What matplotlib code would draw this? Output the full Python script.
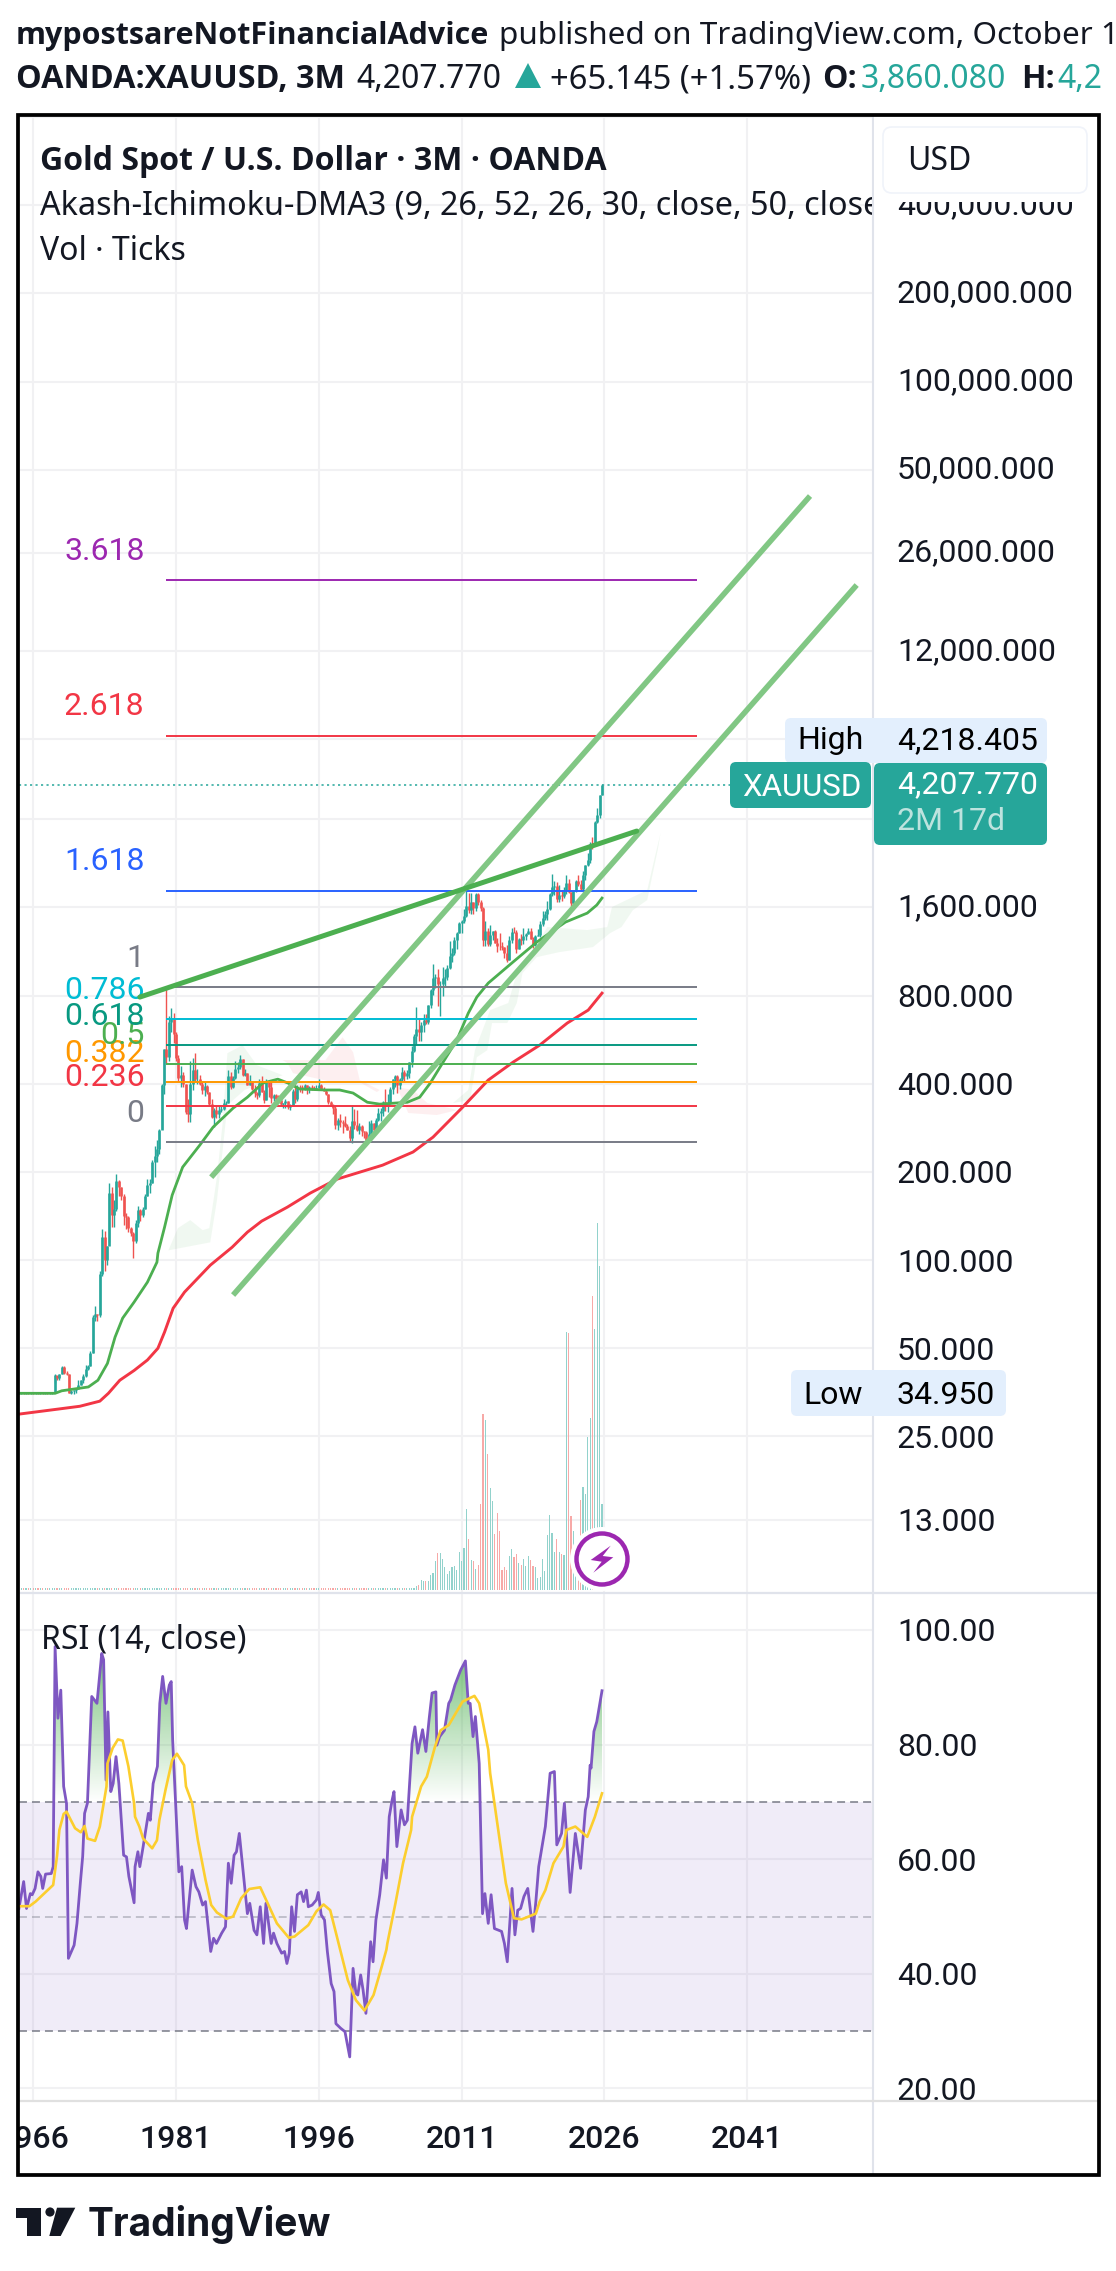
import numpy as np
import matplotlib
matplotlib.use('Agg')
import matplotlib.pyplot as plt
from matplotlib.patches import FancyBboxPatch, Circle, Polygon, Rectangle
from matplotlib.transforms import Bbox, TransformedBbox, ScaledTranslation

W, H = 1116, 2271
UP, DOWN = '#26a69a', '#ef5350'
INK = '#131722'
GRID = '#f1f1f3'
SANS = 'Noto Sans'
BOLD = 'Open Sans'
NUM = 'Roboto'

# quarterly candles, first bar is 1964 Q3
highs = [35.3, 35.3, 35.3, 35.3, 35.3, 35.3, 35.3, 35.3, 35.3, 35.3, 35.3, 35.3, 35.3, 35.3, 35.3,
         41, 40.3, 41,
         43.5, 43.5, 41.9, 40.8,
         36, 36, 36.5, 39,
         39, 41, 44, 44,
         49, 65, 70, 65.5,
         92, 128, 126, 112,
         183, 178, 160, 197,
         188, 178, 168, 145,
         141, 130, 125, 137,
         153, 150, 152, 168,
         190, 190, 220, 245,
         258, 281, 400, 525,
         850, 680, 725, 700,
         600, 500, 460, 440,
         400, 355, 480, 490,
         510, 450, 430, 405,
         405, 395, 375, 355,
         330, 338, 338, 337,
         355, 350, 445, 440,
         425, 480, 475, 500,
         485, 450, 435, 430,
         410, 395, 375, 415,
         425, 380, 415, 410,
         410, 370, 370, 365,
         360, 345, 355, 350,
         340, 385, 405, 395,
         395, 395, 398, 395,
         392, 397, 393, 395,
         415, 398, 390, 384,
         368, 350, 340, 335,
         305, 315, 300, 310,
         292, 288, 338, 328,
         325, 295, 290, 277,
         275, 298, 300, 295,
         305, 330, 330, 350,
         385, 370, 390, 417,
         430, 430, 420, 456,
         445, 445, 475, 540,
         590, 730, 670, 650,
         690, 695, 745, 845,
         1030, 950, 990, 900,
         1005, 990, 1020, 1227,
         1165, 1265, 1315, 1430,
         1447, 1577, 1920, 1795,
         1790, 1675, 1790, 1796,
         1695, 1605, 1434, 1360,
         1392, 1332, 1345, 1255,
         1308, 1224, 1170, 1191,
         1282, 1358, 1375, 1337,
         1262, 1296, 1357, 1307,
         1366, 1365, 1266, 1284,
         1346, 1439, 1557, 1557,
         1689, 1789, 2075, 1965,
         1959, 1916, 1834, 1877,
         2070, 1998, 1814, 1825,
         1990, 2067, 1987, 2135,
         2235, 2450, 2685, 2790,
         3148, 3500, 3870, 4218.405]
lows = [34.95, 34.95, 34.95, 34.95, 34.95, 34.95, 34.95, 34.95, 34.95, 34.95, 34.95, 34.95, 34.95, 34.95, 34.95,
        38, 38.9, 39,
        41, 41, 40.6, 35.2,
        35, 35, 35.3, 36.2,
        37.4, 38, 40, 42,
        43.5, 48, 62, 62,
        64, 88, 92, 96,
        115, 130, 130, 147,
        165, 160, 132, 128,
        125, 121, 102, 114,
        130, 136, 140, 149,
        165, 170, 183, 193,
        217, 230, 280, 370,
        470, 480, 600, 550,
        480, 410, 390, 390,
        315, 296, 296, 380,
        405, 400, 395, 370,
        363, 370, 335, 305,
        285, 305, 305, 320,
        325, 335, 345, 385,
        388, 415, 435, 450,
        425, 425, 395, 395,
        380, 360, 355, 360,
        375, 345, 352, 360,
        345, 350, 345, 345,
        335, 330, 330, 327,
        326, 335, 345, 350,
        375, 372, 380, 370,
        372, 380, 380, 380,
        387, 380, 378, 365,
        340, 335, 315, 280,
        279, 285, 272, 285,
        278, 255, 252, 280,
        277, 270, 265, 261,
        255, 255, 265, 273,
        276, 298, 298, 310,
        322, 320, 340, 370,
        390, 373, 385, 410,
        410, 415, 420, 455,
        515, 542, 560, 560,
        600, 640, 642, 725,
        805, 850, 740, 680,
        800, 865, 905, 990,
        1045, 1105, 1155, 1310,
        1308, 1420, 1480, 1530,
        1525, 1525, 1555, 1635,
        1555, 1180, 1180, 1185,
        1182, 1240, 1208, 1132,
        1142, 1142, 1077, 1046,
        1062, 1208, 1310, 1122,
        1150, 1195, 1204, 1236,
        1302, 1250, 1160, 1183,
        1276, 1266, 1382, 1445,
        1451, 1568, 1757, 1765,
        1677, 1677, 1690, 1722,
        1780, 1787, 1615, 1617,
        1805, 1893, 1816, 1810,
        1985, 2225, 2277, 2537,
        2615, 3120, 3246, 3860]
closes = [35.1, 35.15, 35.1, 35.15, 35.1, 35.2, 35.15, 35.2, 35.1, 35.15, 35.1, 35.15, 35.1, 35.2, 35.2,
          40.5, 39.5, 41,
          43.3, 41.3, 40.8, 35.2,
          35.7, 35.9, 36.3, 37.5,
          38.9, 40.3, 42.5, 43.6,
          48.3, 64, 65.5, 64.9,
          90, 120, 100, 112,
          170, 143, 150, 187,
          178, 166, 142, 140,
          129, 124, 116, 134,
          148, 143, 150, 165,
          181, 184, 217, 226,
          240, 278, 397, 524,
          494, 650, 665, 590,
          490, 420, 430, 400,
          320, 315, 400, 445,
          415, 415, 400, 380,
          393, 375, 340, 308,
          325, 316, 325, 327,
          345, 345, 425, 390,
          420, 450, 455, 485,
          430, 437, 397, 410,
          385, 373, 367, 401,
          375, 352, 408, 391,
          357, 367, 354, 353,
          341, 343, 349, 333,
          337, 378, 355, 390,
          389, 385, 395, 383,
          391, 387, 384, 387,
          396, 382, 379, 369,
          348, 335, 332, 290,
          301, 296, 293, 288,
          279, 262, 299, 290,
          278, 288, 276, 273,
          258, 270, 293, 278,
          301, 318, 323, 347,
          336, 345, 385, 415,
          425, 395, 416, 438,
          427, 435, 473, 517,
          582, 614, 600, 636,
          663, 650, 743, 834,
          917, 925, 880, 880,
          920, 926, 995, 1096,
          1115, 1244, 1307, 1421,
          1439, 1500, 1620, 1565,
          1669, 1598, 1776, 1675,
          1596, 1235, 1327, 1202,
          1284, 1327, 1210, 1184,
          1183, 1172, 1115, 1060,
          1235, 1322, 1315, 1151,
          1249, 1242, 1280, 1302,
          1325, 1253, 1192, 1282,
          1292, 1409, 1472, 1517,
          1577, 1780, 1886, 1898,
          1708, 1770, 1757, 1829,
          1937, 1807, 1661, 1824,
          1969, 1919, 1849, 2063,
          2230, 2326, 2635, 2624,
          3124, 3303, 3860.08, 4207.77]

# volume column heights, arbitrary units
volumes = [6] * 167 + [12, 15, 30,
           27, 27, 27, 45,
           51, 87, 111, 111,
           93, 69, 48, 57,
           69, 72, 60, 114,
           87, 126, 243, 153,
           90, 87, 63, 75,
           258, 528, 510, 408,
           306, 267, 168, 231,
           177, 60, 69, 60,
           102, 123, 99, 108,
           81, 75, 93, 72,
           102, 90, 73, 70,
           36, 39, 93, 57,
           165, 225, 172, 114,
           153, 114, 108, 105,
           773, 770, 222, 177,
           143, 152, 270, 308,
           288, 458, 515, 882,
           782, 1100, 972, 258]

# moving averages
ma_fast_years = [1964.5, 1968.3, 1969.0, 1971.8, 1972.8, 1973.8, 1974.6, 1975.4, 1976.6, 1978.0, 1979.0, 1979.1,
                 1979.8, 1980.6, 1981.7, 1983.5, 1984.9, 1987.0, 1988.5, 1990.1, 1991.7, 1992.8, 1994.0, 1996.7,
                 1998.2, 1999.6, 2001.1, 2002.4, 2005.3, 2006.6, 2007.7, 2009.0, 2010.5, 2011.7, 2012.6, 2013.8,
                 2016.4, 2018.9, 2021.9, 2024.2, 2025.2, 2025.75]
ma_fast = [35.1, 35.1, 35.8, 36.9, 38.9, 44.4, 54.6, 63.4, 71.9, 84.1, 98.4, 105.6,
           129.6, 166.7, 207.8, 247, 284.6, 330.4, 360, 402, 415, 402, 384, 381,
           381, 372, 346, 341, 346, 360, 402, 471, 564, 697, 791, 883,
           1042, 1219, 1426, 1531, 1631, 1723]
ma_slow_years = [1964.5, 1968.6, 1970.9, 1973.0, 1973.9, 1975.1, 1976.6, 1978.0, 1979.1, 1979.8, 1980.7, 1981.9,
                 1984.6, 1986.9, 1988.5, 1990.0, 1992.7, 1995.1, 1997.9, 2002.7, 2005.9, 2008.0, 2011.0, 2013.8,
                 2016.4, 2019.2, 2022.1, 2024.3, 2025.75]
ma_slow = [29.8, 31, 31.7, 33, 35.1, 38.9, 42, 45.6, 50, 56.8, 68.5, 77.8,
           96.1, 110.7, 124.6, 135.9, 151.7, 169.4, 189, 211, 234, 263, 330, 412,
           474, 542, 645, 714, 816]

# ichimoku cloud outlines
cloud_a_years = [1980.2, 1981.2, 1982.5, 1983.8, 1984.5, 1985.3, 1985.9, 1986.4, 1988.0, 1989.5, 1992.2, 1988.2, 1986.4, 1985.9, 1985.3, 1984.6]
cloud_a_price = [108, 128.6, 137, 126.6, 128.6, 192, 294, 509, 542, 463, 428, 381, 338, 237, 160, 115]
cloud_b_years = [1992.2, 1996.7, 1998.5, 1999.6, 2000.3, 2002.4, 2002.1, 2000.3, 1997.5, 1993.3, 1992.7]
cloud_b_price = [482, 482, 577, 513, 412, 381, 375, 405, 405, 435, 471]
cloud_c_years = [2004.2, 2005.9, 2007.4, 2009.8, 2010.5, 2008.4, 2005.4]
cloud_c_price = [390, 381, 344, 330, 325, 313, 318]
cloud_d_years = [2010.1, 2011.7, 2012.4, 2014.0, 2015.9, 2016.8, 2017.4, 2020.0, 2024.2, 2026.3, 2026.8, 2030.5, 2031.3, 2031.9,
                 2031.6, 2031.0, 2030.5, 2029.0, 2027.8, 2026.6, 2024.8, 2021.3, 2018.9, 2017.4, 2016.8, 2015.8, 2014.2, 2013.7, 2012.6, 2011.9]
cloud_d_price = [344, 381, 521, 714, 755, 956, 978, 1372, 1340, 1372, 1606, 1834, 2378, 2871,
                 2512, 2032, 1696, 1568, 1372, 1308, 1172, 1127, 1083, 956, 755, 645, 645, 521, 493, 352]

# drawn trend lines, (year, price) end points
channel_upper_years, channel_upper_price = [1984.7, 2047.6], [192, 40650]
channel_lower_years, channel_lower_price = [1987.0, 2052.5], [76, 20190]
resistance_years, resistance_price = [1977.2, 2029.4], [791, 2918]

# fibonacci levels
fib_labels = ['0', '0.236', '0.382', '0.5', '0.618', '0.786', '1', '1.618', '2.618', '3.618']
fib_prices = [253.5, 335.7, 405.4, 468, 542, 665, 856, 1828, 6183, 21000]
fib_colors = ['#787b86', '#f23645', '#ff9800', '#4caf50', '#089981', '#00bcd4', '#787b86', '#2962ff', '#f23645', '#9c27b0']
fib_start, fib_end = 1979.95, 2035.7

last_price = 4207.77
last_line_end = 2039.2
year_ticks = [1966, 1981, 1996, 2011, 2026, 2041]
price_ticks = [13, 25, 50, 100, 200, 400, 800, 1600, 3200, 6000, 12000, 26000, 50000, 100000, 200000, 400000, 800000]
price_labels = ['13.000', '25.000', '50.000', '100.000', '200.000', '400.000', '800.000', '1,600.000', '', '',
                '12,000.000', '26,000.000', '50,000.000', '100,000.000', '200,000.000', '400,000.000', '']
rsi_ticks = [20, 40, 60, 80, 100]
rsi_labels = ['20.00', '40.00', '60.00', '80.00', '100.00']

rsi_years = [1964.5, 1965.0, 1965.3, 1965.7, 1965.9, 1966.2, 1966.5, 1966.8, 1967.0, 1967.3, 1967.9, 1968.1, 1968.3, 1968.6,
             1968.9, 1969.2, 1969.5, 1969.7, 1970.3, 1970.6, 1970.95, 1971.2, 1971.4, 1971.7, 1972.15, 1972.7, 1973.2,
             1973.4, 1973.65, 1973.85, 1974.15, 1974.4, 1974.7, 1975.0, 1975.5, 1975.8, 1976.05, 1976.6, 1976.7, 1977.0,
             1977.2, 1977.55, 1978.1, 1978.3, 1978.6, 1979.05, 1979.3, 1979.6, 1979.95, 1980.3, 1980.5, 1980.65, 1981.3,
             1981.6, 1981.9, 1982.1, 1982.7, 1983.1, 1983.4, 1983.8, 1984.1, 1984.65, 1984.95, 1985.25, 1985.8, 1986.2,
             1986.5, 1986.8, 1987.1, 1987.35, 1987.65, 1988.0, 1988.5, 1988.75, 1989.2, 1989.5, 1989.85, 1990.2, 1990.45,
             1991.0, 1991.25, 1991.6, 1992.1, 1992.4, 1992.65, 1992.9, 1993.15, 1993.45, 1993.75, 1994.15, 1994.4, 1994.7,
             1994.9, 1995.3, 1995.75, 1995.95, 1996.25, 1996.6, 1996.9, 1997.3, 1997.6, 1997.8, 1998.3, 1998.75, 1999.25,
             1999.6, 1999.9, 2000.1, 2000.4, 2000.65, 2000.95, 2001.45, 2001.7, 2002.0, 2002.4, 2002.8, 2003.1, 2003.4,
             2003.7, 2003.9, 2004.2, 2004.65, 2005.0, 2005.3, 2005.8, 2006.1, 2006.4, 2006.9, 2007.25, 2007.6, 2007.9,
             2008.3, 2008.4, 2008.7, 2009.2, 2009.65, 2009.85, 2010.3, 2010.9, 2011.4, 2011.7, 2011.9, 2012.2, 2012.45,
             2012.85, 2013.2, 2013.45, 2013.8, 2014.1, 2014.45, 2015.2, 2015.5, 2015.8, 2016.3, 2016.6, 2016.9, 2017.2,
             2017.55, 2017.95, 2018.5, 2018.8, 2019.1, 2019.8, 2020.3, 2020.75, 2021.0, 2021.5, 2021.8, 2022.4, 2022.95,
             2023.5, 2024.0, 2024.3, 2024.5, 2024.6, 2024.9, 2025.2, 2025.75]
rsi_values = [51.4, 56.1, 51.4, 54.0, 53.8, 54.9, 57.8, 57.0, 54.9, 57.4, 57.5, 58.7, 97.1, 84.6,
              89.5, 72.7, 69.75, 42.7, 45.0, 48.8, 55.8, 60.5, 68.0, 69.8, 88.4, 87.2, 95.9,
              94.8, 73.8, 85.7, 71.8, 73.2, 77.9, 73.2, 60.7, 60.4, 57.0, 52.4, 58.7, 61.3,
              58.7, 62.2, 68.0, 66.8, 73.2, 76.2, 87.2, 91.9, 87.2, 90.4, 91.0, 80.8, 57.8,
              58.7, 49.4, 47.9, 58.1, 55.2, 54.3, 52.0, 52.6, 43.9, 46.2, 45.3, 47.1, 48.2,
              59.3, 55.8, 60.7, 61.3, 64.5, 58.7, 50.5, 52.3, 47.6, 46.8, 51.7, 45.3, 52.3,
              45.3, 47.1, 45.3, 43.6, 43.9, 41.8, 43.6, 51.7, 47.4, 53.8, 54.3, 52.6, 54.6,
              51.7, 52.0, 52.9, 54.2, 50.3, 49.4, 43.9, 38.3, 36.9, 31.3, 30.5, 29.9, 25.5,
              40.95, 36.6, 36.3, 39.8, 37.2, 33.1, 45.6, 42.1, 49.4, 53.8, 59.9, 56.7, 67.4,
              70.3, 71.8, 62.2, 68.6, 66.0, 66.8, 80.2, 83.1, 78.5, 82.6, 78.8, 84.6, 89.0,
              89.2, 79.9, 81.4, 82.5, 87.2, 87.8, 90.4, 93.0, 94.6, 87.2, 87.2, 81.4, 84.9,
              76.7, 50.5, 54.0, 48.8, 53.8, 47.9, 47.4, 45.3, 42.1, 54.9, 46.8, 51.1, 51.4,
              53.5, 54.9, 47.4, 52.6, 58.7, 65.7, 75.0, 75.3, 62.5, 64.5, 69.75, 54.2, 64.5,
              58.4, 68.6, 70.9, 76.4, 75.9, 82.3, 84.0, 89.4]
rsi_ma_years = [1964.5, 1965.6, 1966.25, 1968.1, 1968.5, 1968.75, 1969.2, 1969.5, 1970.4, 1971.0, 1971.4, 1971.7, 1972.5,
                1973.0, 1973.7, 1973.8, 1974.35, 1974.9, 1975.4, 1976.0, 1976.6, 1976.7, 1977.15, 1977.55, 1978.5, 1979.0,
                1979.25, 1979.9, 1980.6, 1981.1, 1981.85, 1982.05, 1982.7, 1983.3, 1984.1, 1984.7, 1985.3, 1986.3, 1987.0,
                1987.85, 1988.7, 1989.85, 1990.55, 1991.6, 1992.85, 1993.45, 1994.9, 1995.75, 1996.5, 1997.2, 1997.9, 1999.05,
                1999.9, 2000.8, 2001.75, 2002.6, 2003.1, 2003.2, 2004.05, 2004.85, 2005.7, 2005.8, 2006.75, 2007.35, 2008.2,
                2008.8, 2009.65, 2011.1, 2012.35, 2012.85, 2013.8, 2014.0, 2014.85, 2015.65, 2016.5, 2017.3, 2018.8, 2019.2,
                2019.8, 2020.65, 2021.7, 2022.0, 2022.95, 2024.2, 2025.0, 2025.75]
rsi_ma = [51.8, 51.8, 52.6, 55.5, 60.5, 65.1, 67.9, 68.3, 65.4, 64.7, 65.8, 63.6, 63.2,
          65.7, 72.7, 76.7, 79.4, 80.9, 80.7, 76.2, 69.75, 67.4, 65.7, 63.6, 61.9, 63.3,
          66.8, 72.1, 77.3, 78.4, 76.4, 72.7, 69.75, 63.3, 56.4, 52.0, 50.7, 49.6, 50.0,
          53.2, 54.8, 55.1, 52.6, 48.8, 46.3, 46.5, 48.5, 50.9, 52.1, 51.1, 46.5, 38.9,
          35.4, 33.6, 36.3, 41.2, 44.2, 45.3, 52.3, 59.3, 65.1, 67.4, 72.7, 74.4, 79.6,
          82.5, 83.4, 87.5, 88.5, 87.2, 79.1, 75.0, 65.1, 55.8, 49.7, 49.5, 50.5, 52.6,
          54.6, 59.3, 62.2, 65.1, 65.7, 63.9, 67.4, 71.5]


def rect(x0, y0, x1, y1):
    # pixel box (top-left origin) to figure fractions
    return [x0 / W, 1 - y1 / H, (x1 - x0) / W, (y1 - y0) / H]


fig = plt.figure(figsize=(W / 100, H / 100), dpi=100, facecolor='white')
ax = fig.add_axes(rect(19, 116, 872, 1592), zorder=1)
ax_vol = fig.add_axes(rect(19, 116, 872, 1592), zorder=2)
ax_rsi = fig.add_axes(rect(19, 1594, 872, 2100), zorder=1)
ax_ui = fig.add_axes([0, 0, 1, 1], zorder=10)

XLIM = (1964.51, 2054.11)

# ==== price pane ====
ax.set_yscale('log')
ax.set_xlim(*XLIM)
ax.set_ylim(7.36, 806600)
ax.set_xticks(year_ticks)
ax.set_xticklabels([])
ax.set_yticks(price_ticks, price_labels)
ax.minorticks_off()
ax.yaxis.tick_right()
ax.tick_params(length=0)
ax.tick_params(axis='y', pad=18, labelsize=23, labelcolor=INK)
for lab in ax.get_yticklabels():
    lab.set_fontfamily(NUM)
    # labels with a comma sit a little higher in the reference
    if ',' in lab.get_text():
        lab.set_transform(lab.get_transform() + ScaledTranslation(0, 0.03, fig.dpi_scale_trans))
ax.grid(True, color=GRID, lw=1.5, zorder=0)
ax.set_axisbelow(True)
for s in ax.spines.values():
    s.set_visible(False)

for xs, ps, c in [(cloud_a_years, cloud_a_price, '#4caf50'),
                  (cloud_b_years, cloud_b_price, '#f23645'),
                  (cloud_c_years, cloud_c_price, '#f23645'),
                  (cloud_d_years, cloud_d_price, '#4caf50')]:
    ax.fill(xs, ps, color=c, alpha=0.08, lw=0, zorder=1)

n = len(closes)
years = 1964.5 + 0.25 * np.arange(n)
closes_arr = np.array(closes, dtype=float)
opens = np.r_[closes_arr[0], closes_arr[:-1]]
candle_colors = [UP if c >= o else DOWN for o, c in zip(opens, closes_arr)]
ax.vlines(years, lows, highs, colors=candle_colors, lw=1.0, zorder=2)
ax.vlines(years, opens, closes_arr, colors=candle_colors, lw=1.9, zorder=2)

ax.plot(ma_fast_years, ma_fast, color='#4caf50', lw=2.0, zorder=3)
ax.plot(ma_slow_years, ma_slow, color='#f23645', lw=2.1, zorder=3)

for lab, price, c in zip(fib_labels, fib_prices, fib_colors):
    ax.hlines(price, fib_start, fib_end, color=c, lw=1.4, zorder=4)
    ax.annotate(lab, (1977.7, price), xytext=(0, 20.7), textcoords='offset points', ha='right', va='center',
                color=c, fontsize=23, family=NUM, zorder=4)

ax.hlines(last_price, XLIM[0], last_line_end, color=UP, lw=1.1, linestyle=(0, (1.4, 2.2)), zorder=4)

ax.plot(channel_upper_years, channel_upper_price, color='#81c784', lw=4.0, zorder=5, solid_capstyle='butt')
ax.plot(channel_lower_years, channel_lower_price, color='#81c784', lw=4.0, zorder=5, solid_capstyle='butt')
ax.plot(resistance_years, resistance_price, color='#4caf50', lw=3.6, zorder=5, solid_capstyle='round')

# ==== volume, same pane, its own linear scale ====
ax_vol.set_xlim(*XLIM)
ax_vol.set_ylim(-6, 4422)
ax_vol.axis('off')
vol_colors = ['#92d2cc' if c == UP else '#f7a9a7' for c in candle_colors]
ax_vol.bar(years, volumes, width=0.12, color=vol_colors, lw=0)

# ==== RSI pane ====
ax_rsi.set_xlim(*XLIM)
ax_rsi.set_ylim(17.98, 106.28)
ax_rsi.set_yticks(rsi_ticks, rsi_labels)
ax_rsi.set_xticks(year_ticks, [str(y) for y in year_ticks])
ax_rsi.yaxis.tick_right()
ax_rsi.tick_params(length=0)
ax_rsi.tick_params(axis='y', pad=18, labelsize=23, labelcolor=INK)
ax_rsi.tick_params(axis='x', pad=18, labelsize=23, labelcolor=INK)
for lab in ax_rsi.get_yticklabels():
    lab.set_fontfamily(NUM)
for lab in ax_rsi.get_xticklabels():
    lab.set_fontfamily(NUM)
    lab.set_fontweight('medium')
ax_rsi.grid(True, color=GRID, lw=1.5)
ax_rsi.set_axisbelow(True)
for s in ax_rsi.spines.values():
    s.set_visible(False)

ax_rsi.axhspan(30, 70, color='#7e57c2', alpha=0.11, lw=0, zorder=1)
for level, alpha in [(70, 1), (50, 0.5), (30, 1)]:
    ax_rsi.axhline(level, color='#787b86', alpha=alpha, lw=1.1, linestyle=(0, (5.2, 3.3)), zorder=2)

# green gradient under the overbought part of the RSI line
grad = np.zeros((256, 1, 4))
grad[..., :3] = matplotlib.colors.to_rgb('#4caf50')
grad[..., 3] = np.linspace(0.86, 0, 256)[:, None]
im = ax_rsi.imshow(grad, extent=(XLIM[0], XLIM[1], 70, 100), aspect='auto', zorder=2, interpolation='bilinear')
clip_poly = ax_rsi.fill_between(rsi_years, 70, np.maximum(rsi_values, 70), color='none', lw=0)
im.set_clip_path(clip_poly.get_paths()[0], transform=ax_rsi.transData)
ax_rsi.set_xlim(*XLIM)
ax_rsi.set_ylim(17.98, 106.28)

ax_rsi.plot(rsi_years, rsi_values, color='#7e57c2', lw=2.0, zorder=3)
ax_rsi.plot(rsi_ma_years, rsi_ma, color='#fcce2e', lw=1.9, zorder=4)

# ==== chart chrome, in pixels ====
ax_ui.set_xlim(0, W)
ax_ui.set_ylim(H, 0)
ax_ui.axis('off')
ax_ui.patch.set_visible(False)


def txt(x, y, s, size=23, family=NUM, color=INK, weight='normal', clip=None, **kw):
    # the two sans faces centre a little high, roboto a little less
    y = y + (1.5 if family == NUM else 3)
    t = ax_ui.text(x, y, s, fontsize=size, family=family, color=color, fontweight=weight, va='center', **kw)
    if clip is not None:
        t.set_clip_box(TransformedBbox(Bbox(clip), ax_ui.transData))
        t.set_clip_on(True)
    return t


def box(x0, y0, x1, y1, face, edge='none', rad=6, z=2, lw=0):
    ax_ui.add_patch(FancyBboxPatch((x0 + rad, y0 + rad), x1 - x0 - 2 * rad, y1 - y0 - 2 * rad,
                                   boxstyle='round,pad=%d,rounding_size=%d' % (rad, rad),
                                   fc=face, ec=edge, lw=lw, zorder=z))


for lab in ax_rsi.get_xticklabels():
    lab.set_clip_box(TransformedBbox(Bbox([[19, 2102], [872, 2174]]), ax_ui.transData))
    lab.set_clip_on(True)

# separators and outer frame
ax_ui.plot([872.5, 872.5], [116, 2174], color='#e0e3eb', lw=1.5, zorder=1)
ax_ui.plot([19, 1097], [1593, 1593], color='#e0e3eb', lw=1.6, zorder=1)
ax_ui.plot([19, 1097], [2101, 2101], color='#e0e0e0', lw=1.6, zorder=1)
ax_ui.add_patch(Rectangle((17.5, 114.5), 1081.5, 2060, fc='none', ec='black', lw=2.7, zorder=9))

# header
HEAD = 23
txt(16, 33, 'mypostsareNotFinancialAdvice', size=22, family=BOLD, weight='bold')
txt(499, 33, 'published on TradingView.com, October 1', size=22.7, family=SANS)
txt(16, 77, 'OANDA:XAUUSD, 3M', size=23.3, family=BOLD, weight='bold')
txt(356, 77, '4,207.770', size=HEAD, family=SANS)
ax_ui.add_patch(Polygon([(515, 88), (541, 88), (528, 63)], fc=UP, ec='none'))
txt(550, 77, '+65.145 (+1.57%)', size=23.6, family=SANS)
txt(822, 77, 'O:', size=HEAD, family=BOLD, weight='bold')
txt(861, 77, '3,860.080', size=HEAD, family=SANS, color=UP)
txt(1021, 77, 'H:', size=HEAD, family=BOLD, weight='bold')
txt(1057, 77, '4,2', size=HEAD, family=SANS, color=UP)

# legend block
txt(40, 158, 'Gold Spot / U.S. Dollar · 3M · OANDA', size=HEAD, family=BOLD, weight='bold')
txt(40, 203, 'Akash-Ichimoku-DMA3 (9, 26, 52, 26, 30, close, 50, close', size=23.3, family=SANS,
    clip=[[19, 116], [872, 1592]])
txt(40, 248, 'Vol · Ticks', size=HEAD, family=SANS)
txt(41, 1637, 'RSI (14, close)', size=HEAD, family=SANS)

# white backing hides the top of the tick label just below the USD box
ax_ui.add_patch(Rectangle((874, 117), 222, 85, fc='white', ec='none', zorder=1.5))
box(883, 127, 1087, 193, 'white', edge='#f0f3fa', rad=9, lw=1.2)
txt(907, 158, 'USD', size=HEAD, family=SANS)

# high / last / low badges
box(785, 718, 1047, 763, '#e3effd')
txt(797, 739, 'High', color='black')
txt(897, 739, '4,218.405', color='black')
box(730, 762, 871, 808, UP)
txt(742, 786, 'XAUUSD', size=22.5, color='white')
box(874, 763, 1047, 845, UP)
txt(897, 783, '4,207.770', color='white')
txt(897, 820, '2M 17d', color='#bde3de')
box(791, 1370, 1006, 1416, '#e3effd')
txt(803, 1394, 'Low', color='black')
txt(897, 1394, '34.950', color='black')

# lightning badge
ax_ui.add_patch(Circle((602, 1559), 32, fc='white', ec='none', zorder=3))
ax_ui.add_patch(Circle((602, 1559), 25.5, fc='white', ec='#9c27b0', lw=3.2, zorder=3))
ax_ui.add_patch(Polygon([(610.7, 1545.7), (602.7, 1556), (613.3, 1557.3), (593.3, 1572.7), (601.7, 1561.7), (590.7, 1560)],
                        fc='#9c27b0', ec='none', zorder=4))

# logo
ax_ui.add_patch(Polygon([(16, 2207.7), (40.7, 2207.7), (40.7, 2236), (27.3, 2236), (27.3, 2218), (16, 2218)], fc=INK, ec='none'))
ax_ui.add_patch(Circle((50, 2212), 4.6, fc=INK, ec='none'))
ax_ui.add_patch(Polygon([(57, 2207.7), (75.3, 2207.7), (60.7, 2236), (49.3, 2236)], fc=INK, ec='none'))
txt(88, 2221, 'TradingView', size=28, family='Inter', weight='bold')

fig.savefig('out.png', dpi=100)
